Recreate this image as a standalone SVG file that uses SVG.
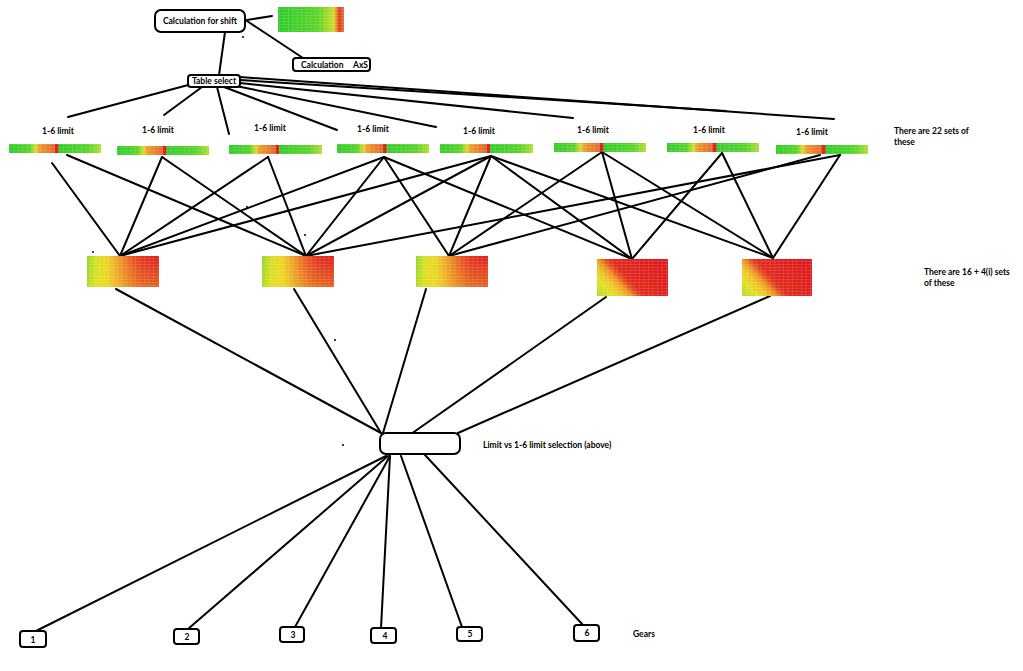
<svg xmlns="http://www.w3.org/2000/svg" width="1023" height="671" viewBox="0 0 1023 671">
<style>
.ln{stroke:#000;stroke-width:2;fill:none;stroke-linecap:round}
.bx{fill:#fff;stroke:#000;stroke-width:2}
.t{font-family:Lato,"Liberation Sans",sans-serif;font-weight:bold;font-size:8.5px;fill:#000}
.dot{fill:#000}
</style>
<defs>
<linearGradient id="gBar" x1="0" y1="0" x2="1" y2="0">
<stop offset="0" stop-color="#2ecc2a"/>
<stop offset="0.22" stop-color="#55d42a"/>
<stop offset="0.29" stop-color="#d8dc2a"/>
<stop offset="0.33" stop-color="#ee9a2a"/>
<stop offset="0.50" stop-color="#e0662a"/>
<stop offset="0.505" stop-color="#e01a1a"/>
<stop offset="0.535" stop-color="#e01a1a"/>
<stop offset="0.54" stop-color="#33cc2a"/>
<stop offset="0.85" stop-color="#55d42a"/>
<stop offset="1" stop-color="#b4dc33"/>
</linearGradient>
<linearGradient id="gTop" x1="0" y1="0" x2="1" y2="0">
<stop offset="0" stop-color="#2ecc2a"/>
<stop offset="0.6" stop-color="#5cd42a"/>
<stop offset="0.84" stop-color="#c8dc2a"/>
<stop offset="0.88" stop-color="#ee9a2a"/>
<stop offset="0.92" stop-color="#e03a1a"/>
<stop offset="1" stop-color="#e0702a"/>
</linearGradient>
<linearGradient id="gH" x1="0" y1="0" x2="1" y2="0">
<stop offset="0" stop-color="#8cd826"/>
<stop offset="0.12" stop-color="#d4e024"/>
<stop offset="0.28" stop-color="#eed424"/>
<stop offset="0.42" stop-color="#eea024"/>
<stop offset="0.6" stop-color="#e85a22"/>
<stop offset="0.75" stop-color="#e23020"/>
<stop offset="1" stop-color="#e01c1c"/>
</linearGradient>
<linearGradient id="gHv" x1="0" y1="0" x2="0" y2="1">
<stop offset="0" stop-color="#eedc24" stop-opacity="0"/>
<stop offset="1" stop-color="#eedc24" stop-opacity="0.35"/>
</linearGradient>
<linearGradient id="gR" x1="0" y1="1" x2="1" y2="0.52">
<stop offset="0" stop-color="#b0d822"/>
<stop offset="0.18" stop-color="#e0e024"/>
<stop offset="0.3" stop-color="#eec424"/>
<stop offset="0.4" stop-color="#ec9222"/>
<stop offset="0.47" stop-color="#e85020"/>
<stop offset="0.54" stop-color="#e22a1e"/>
<stop offset="1" stop-color="#dd1c1c"/>
</linearGradient>
<pattern id="grid" width="4.5" height="3" patternUnits="userSpaceOnUse">
<path d="M0 0H4.5M0 0V3" stroke="#fff" stroke-width="0.5" stroke-opacity="0.4" fill="none"/>
</pattern>
</defs>

<g id="connectors">
<line class="ln" x1="247" y1="20" x2="272" y2="16"/>
<line class="ln" x1="247" y1="21" x2="303" y2="58"/>
<line class="ln" x1="225" y1="32" x2="219" y2="75"/>
<line class="ln" x1="192" y1="84" x2="68" y2="117"/>
<line class="ln" x1="202" y1="87" x2="164" y2="115"/>
<line class="ln" x1="217" y1="87" x2="229" y2="134"/>
<line class="ln" x1="224" y1="87" x2="337" y2="130"/>
<line class="ln" x1="236" y1="86" x2="436" y2="127"/>
<line class="ln" x1="240" y1="83" x2="573" y2="118"/>
<line class="ln" x1="240" y1="80" x2="726" y2="111"/>
<line class="ln" x1="240" y1="77" x2="834" y2="119"/>
<line class="ln" x1="52" y1="163" x2="120" y2="256"/>
<line class="ln" x1="67" y1="155" x2="306" y2="256"/>
<line class="ln" x1="162" y1="157" x2="120" y2="256"/>
<line class="ln" x1="162" y1="157" x2="306" y2="256"/>
<line class="ln" x1="268" y1="157" x2="120" y2="256"/>
<line class="ln" x1="268" y1="157" x2="306" y2="256"/>
<line class="ln" x1="384" y1="157" x2="120" y2="256"/>
<line class="ln" x1="384" y1="157" x2="306" y2="256"/>
<line class="ln" x1="384" y1="157" x2="449" y2="256"/>
<line class="ln" x1="384" y1="157" x2="632" y2="259"/>
<line class="ln" x1="491" y1="156" x2="120" y2="256"/>
<line class="ln" x1="491" y1="156" x2="306" y2="256"/>
<line class="ln" x1="491" y1="156" x2="449" y2="256"/>
<line class="ln" x1="491" y1="156" x2="632" y2="259"/>
<line class="ln" x1="491" y1="156" x2="773" y2="258"/>
<line class="ln" x1="602" y1="152" x2="449" y2="256"/>
<line class="ln" x1="602" y1="152" x2="632" y2="259"/>
<line class="ln" x1="602" y1="152" x2="773" y2="258"/>
<line class="ln" x1="722" y1="153" x2="632" y2="259"/>
<line class="ln" x1="722" y1="153" x2="773" y2="258"/>
<line class="ln" x1="820" y1="155" x2="449" y2="256"/>
<line class="ln" x1="840" y1="155" x2="306" y2="256"/>
<line class="ln" x1="840" y1="155" x2="773" y2="258"/>
<line class="ln" x1="116" y1="289" x2="381" y2="433"/>
<line class="ln" x1="294" y1="289" x2="381" y2="433"/>
<line class="ln" x1="426" y1="289" x2="383" y2="433"/>
<line class="ln" x1="606" y1="297" x2="411" y2="434"/>
<line class="ln" x1="770" y1="296" x2="458" y2="433"/>
<line class="ln" x1="386" y1="456" x2="36" y2="631"/>
<line class="ln" x1="388" y1="456" x2="188" y2="629"/>
<line class="ln" x1="390" y1="456" x2="295" y2="627"/>
<line class="ln" x1="390" y1="456" x2="381" y2="628"/>
<line class="ln" x1="401" y1="456" x2="462" y2="627"/>
<line class="ln" x1="425" y1="455" x2="583" y2="625"/>
</g>

<g id="calc-shift">
<rect class="bx" x="155" y="10" width="90" height="22" rx="6"/>
<text class="t" x="200" y="24" text-anchor="middle">Calculation for shift</text>
</g>
<g id="top-heatmap">
<rect x="278" y="7" width="66" height="25" fill="url(#gTop)"/>
<rect x="278" y="7" width="66" height="25" fill="url(#grid)"/>
</g>
<g id="calc-axs">
<rect class="bx" x="293" y="58" width="77" height="13" rx="3"/>
<text class="t" x="301" y="68">Calculation</text>
<text class="t" x="353" y="68">AxS</text>
</g>
<g id="table-select">
<rect class="bx" x="188" y="75" width="52" height="12" rx="3"/>
<text class="t" x="214" y="84" text-anchor="middle">Table select</text>
</g>

<g id="limit-1">
<text class="t" x="58" y="134" text-anchor="middle">1-6 limit</text>
<rect x="9" y="144" width="92" height="9" fill="url(#gBar)"/><rect x="9" y="144" width="92" height="9" fill="url(#grid)"/>
</g>
<g id="limit-2">
<text class="t" x="158" y="133" text-anchor="middle">1-6 limit</text>
<rect x="117" y="146" width="92" height="9" fill="url(#gBar)"/><rect x="117" y="146" width="92" height="9" fill="url(#grid)"/>
</g>
<g id="limit-3">
<text class="t" x="270" y="131" text-anchor="middle">1-6 limit</text>
<rect x="229" y="145" width="93" height="9" fill="url(#gBar)"/><rect x="229" y="145" width="93" height="9" fill="url(#grid)"/>
</g>
<g id="limit-4">
<text class="t" x="373" y="132" text-anchor="middle">1-6 limit</text>
<rect x="337" y="144" width="92" height="9" fill="url(#gBar)"/><rect x="337" y="144" width="92" height="9" fill="url(#grid)"/>
</g>
<g id="limit-5">
<text class="t" x="479" y="134" text-anchor="middle">1-6 limit</text>
<rect x="440" y="144" width="93" height="9" fill="url(#gBar)"/><rect x="440" y="144" width="93" height="9" fill="url(#grid)"/>
</g>
<g id="limit-6">
<text class="t" x="593" y="133" text-anchor="middle">1-6 limit</text>
<rect x="554" y="143" width="92" height="9" fill="url(#gBar)"/><rect x="554" y="143" width="92" height="9" fill="url(#grid)"/>
</g>
<g id="limit-7">
<text class="t" x="709" y="133" text-anchor="middle">1-6 limit</text>
<rect x="667" y="143" width="92" height="9" fill="url(#gBar)"/><rect x="667" y="143" width="92" height="9" fill="url(#grid)"/>
</g>
<g id="limit-8">
<text class="t" x="812" y="135" text-anchor="middle">1-6 limit</text>
<rect x="776" y="145" width="92" height="9" fill="url(#gBar)"/><rect x="776" y="145" width="92" height="9" fill="url(#grid)"/>
</g>
<g id="note-22">
<text class="t" x="894" y="134">There are 22 sets of</text>
<text class="t" x="894" y="145">these</text>
</g>

<g id="map-1">
<rect x="87" y="256" width="72" height="31" fill="url(#gH)"/><rect x="87" y="256" width="72" height="31" fill="url(#gHv)"/><rect x="87" y="256" width="72" height="31" fill="url(#grid)"/>
</g>
<g id="map-2">
<rect x="262" y="256" width="72" height="31" fill="url(#gH)"/><rect x="262" y="256" width="72" height="31" fill="url(#gHv)"/><rect x="262" y="256" width="72" height="31" fill="url(#grid)"/>
</g>
<g id="map-3">
<rect x="416" y="256" width="72" height="31" fill="url(#gH)"/><rect x="416" y="256" width="72" height="31" fill="url(#gHv)"/><rect x="416" y="256" width="72" height="31" fill="url(#grid)"/>
</g>
<g id="map-4">
<rect x="597" y="259" width="71" height="37" fill="url(#gR)"/><rect x="597" y="259" width="71" height="37" fill="url(#grid)"/>
</g>
<g id="map-5">
<rect x="742" y="259" width="70" height="37" fill="url(#gR)"/><rect x="742" y="259" width="70" height="37" fill="url(#grid)"/>
</g>
<g id="note-16">
<text class="t" x="924" y="275">There are 16 + 4(i) sets</text>
<text class="t" x="924" y="286">of these</text>
</g>

<g id="limit-select">
<rect class="bx" x="380" y="433" width="80" height="21" rx="6"/>
<text class="t" x="483" y="448">Limit vs 1-6 limit selection (above)</text>
</g>

<g id="gear-1"><rect class="bx" x="20" y="631" width="26" height="16" rx="3"/><text class="t" x="33" y="643" text-anchor="middle">1</text></g>
<g id="gear-2"><rect class="bx" x="174" y="629" width="25" height="15" rx="3"/><text class="t" x="187" y="640" text-anchor="middle">2</text></g>
<g id="gear-3"><rect class="bx" x="280" y="627" width="24" height="15" rx="3"/><text class="t" x="293" y="638" text-anchor="middle">3</text></g>
<g id="gear-4"><rect class="bx" x="371" y="628" width="25" height="15" rx="3"/><text class="t" x="385" y="639" text-anchor="middle">4</text></g>
<g id="gear-5"><rect class="bx" x="457" y="627" width="25" height="14" rx="3"/><text class="t" x="470" y="637" text-anchor="middle">5</text></g>
<g id="gear-6"><rect class="bx" x="574" y="625" width="25" height="16" rx="3"/><text class="t" x="587" y="636" text-anchor="middle">6</text></g>
<g id="gears-label"><text class="t" x="633" y="637">Gears</text></g>

<g id="dots">
<circle class="dot" cx="243" cy="37" r="1"/>
<circle class="dot" cx="93" cy="252" r="1"/>
<circle class="dot" cx="247" cy="207" r="1"/>
<circle class="dot" cx="305" cy="235" r="1"/>
<circle class="dot" cx="335" cy="340" r="1"/>
<circle class="dot" cx="343" cy="445" r="1"/>
</g>
</svg>
